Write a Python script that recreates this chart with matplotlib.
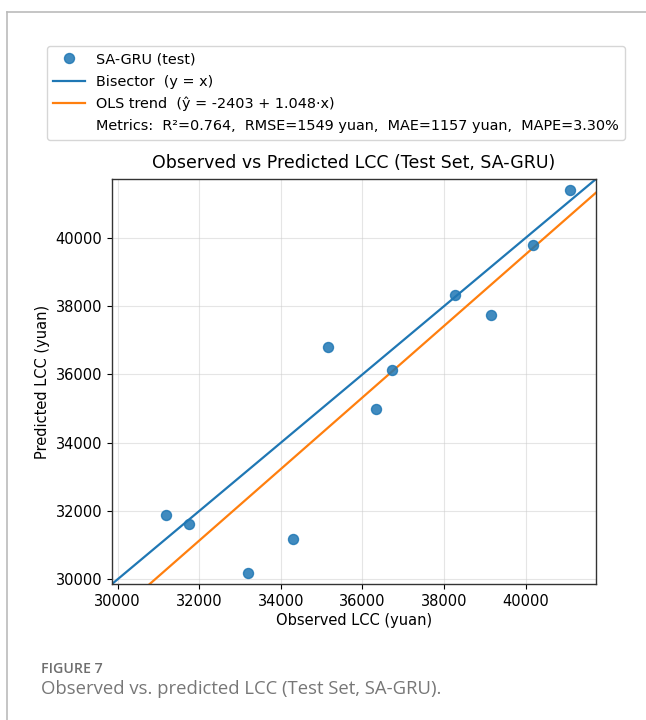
import numpy as np
import matplotlib
matplotlib.use("Agg")
import matplotlib.pyplot as plt
from matplotlib.lines import Line2D

# observed vs predicted LCC (yuan), test set
observed = [31180, 31755, 33195, 34285, 35160, 36325, 36730, 38280, 39150, 40190, 41100]
predicted = [31885, 31610, 30195, 31180, 36795, 34995, 36140, 38325, 37740, 39800, 41390]

ols_a = -2403
ols_b = 1.048
metrics_txt = "Metrics:  R²=0.764,  RMSE=1549 yuan,  MAE=1157 yuan,  MAPE=3.30%"

fig = plt.figure(figsize=(6.46, 7.2), dpi=100)
ax = fig.add_axes([112/646, 1-584/720, 484/646, 405/720])

allv = observed + predicted
mn, mx = min(allv), max(allv)
pad = 0.03 * (mx - mn)
lo, hi = mn - pad, mx + pad

ax.scatter(observed, predicted, s=52, color="tab:blue", alpha=0.85, zorder=3)
xx = np.array([lo, hi])
ax.plot(xx, xx, color="tab:blue", lw=1.6, zorder=2)
ax.plot(xx, ols_a + ols_b * xx, color="tab:orange", lw=1.6, zorder=2)

ax.set_xlim(lo, hi)
ax.set_ylim(lo, hi)
ax.set_xticks([30000, 32000, 34000, 36000, 38000, 40000])
ax.set_yticks([30000, 32000, 34000, 36000, 38000, 40000])
ax.grid(True, color="#cccccc", alpha=0.5, lw=0.8)
ax.set_axisbelow(True)
for s in ax.spines.values():
    s.set_linewidth(1.0)
    s.set_color("#333333")
ax.tick_params(labelsize=10.5)
ax.set_xlabel("Observed LCC (yuan)", fontsize=10.5, labelpad=3)
ax.set_ylabel("Predicted LCC (yuan)", fontsize=10.5)
ax.set_title("Observed vs Predicted LCC (Test Set, SA-GRU)", fontsize=12.5, pad=8)

handles = [
    Line2D([], [], marker="o", linestyle="none", color="tab:blue", alpha=0.85, markersize=7.2),
    Line2D([], [], color="tab:blue", lw=1.6),
    Line2D([], [], color="tab:orange", lw=1.6),
    Line2D([], [], linestyle="none"),
]
labels = ["SA-GRU (test)", "Bisector  (y = x)",
          "OLS trend  (ŷ = -2403 + 1.048·x)", metrics_txt]
fig.legend(handles, labels, loc="upper left", bbox_to_anchor=(47/646, 1-46/720),
           borderaxespad=0, fontsize=10.4, frameon=True, handlelength=2.15,
           borderpad=0.45, labelspacing=0.56)

# page border lines
fig.add_artist(Line2D([7/646, 1], [1-12/720, 1-12/720], color="#bbbbbb", lw=1.2))
fig.add_artist(Line2D([7/646, 7/646], [0, 1-12/720], color="#bbbbbb", lw=1.2))

fig.text(41/646, 1-669/720, "FIGURE 7", fontsize=10.2, color="#6e6e6e",
         family="Open Sans", weight="semibold", va="center")
fig.text(41/646, 1-689/720, "Observed vs. predicted LCC (Test Set, SA-GRU).",
         fontsize=13.3, color="#777777", family="Open Sans", va="center")

fig.savefig("out.png", dpi=100)
